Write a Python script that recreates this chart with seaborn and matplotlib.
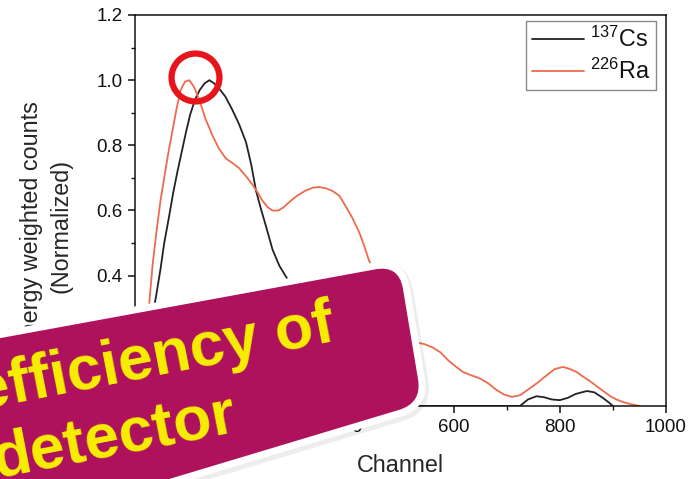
import numpy as np
import pandas as pd
import seaborn as sns
import matplotlib
matplotlib.use("Agg")
import matplotlib.pyplot as plt
from matplotlib.path import Path
from matplotlib.patches import PathPatch
from matplotlib.transforms import IdentityTransform, Affine2D
from matplotlib.ticker import FormatStrFormatter, MultipleLocator

# ---- spectra (normalised energy-weighted counts) ----
cs_channel = [18, 24, 30, 40, 48, 55, 64, 72, 80, 88, 96, 104, 113, 122, 131, 140,
              149, 158, 170, 183, 196, 209, 219, 228, 238, 247, 259, 272, 287, 300,
              320, 345, 370, 395, 420, 450, 480, 600, 725, 740, 756, 770, 785, 800,
              815, 830, 851, 865, 881, 893, 900]
cs_counts = [0.0, 0.12, 0.25, 0.34, 0.42, 0.50, 0.58, 0.655, 0.72, 0.78, 0.84, 0.895,
             0.94, 0.97, 0.99, 1.0, 0.99, 0.975, 0.95, 0.91, 0.865, 0.81, 0.74, 0.66,
             0.60, 0.55, 0.48, 0.43, 0.39, 0.36, 0.30, 0.21, 0.13, 0.07, 0.03, 0.01,
             0.0, 0.0, 0.0, 0.02, 0.03, 0.027, 0.02, 0.018, 0.025, 0.037, 0.046, 0.042,
             0.025, 0.01, 0.0]

ra_channel = [15, 20, 26, 33, 40, 48, 55, 62, 70, 78, 86, 94, 102, 111, 121, 133,
              146, 158, 171, 184, 196, 209, 221, 231, 240, 250, 259, 270, 280, 290,
              305, 320, 335, 347, 360, 372, 385, 398, 410, 423, 432, 440, 455, 470,
              485, 500, 515, 530, 545, 560, 575, 590, 605, 617, 632, 649, 665, 680,
              695, 710, 725, 740, 757, 772, 790, 806, 820, 833, 844, 858, 870, 881,
              895, 907, 919, 935, 951]
ra_counts = [0.0, 0.12, 0.30, 0.43, 0.53, 0.63, 0.70, 0.77, 0.84, 0.91, 0.97, 0.995,
             1.0, 0.98, 0.94, 0.88, 0.83, 0.79, 0.76, 0.745, 0.73, 0.705, 0.68, 0.655,
             0.63, 0.61, 0.60, 0.60, 0.61, 0.625, 0.645, 0.66, 0.67, 0.672, 0.668,
             0.66, 0.645, 0.61, 0.575, 0.53, 0.49, 0.45, 0.39, 0.33, 0.28, 0.24, 0.21,
             0.195, 0.19, 0.18, 0.165, 0.14, 0.12, 0.105, 0.095, 0.085, 0.07, 0.05,
             0.035, 0.028, 0.033, 0.05, 0.07, 0.09, 0.113, 0.12, 0.113, 0.103, 0.09,
             0.075, 0.06, 0.047, 0.03, 0.02, 0.012, 0.005, 0.0]

series_labels = ["$^{137}$Cs", "$^{226}$Ra"]
series_colors = ["#222222", "#EE6A4D"]
x_ticks = [0, 200, 400, 600, 800, 1000]
y_ticks = [0.0, 0.2, 0.4, 0.6, 0.8, 1.0, 1.2]
x_label = "Channel"
y_label = "Energy weighted counts\n(Normalized)"
banner_lines = ["efficiency of", "detector"]
highlight_point = (113, 1.01)   # ring drawn around the two main peaks

df = pd.concat([
    pd.DataFrame({"Channel": cs_channel, "Counts": cs_counts, "Source": series_labels[0]}),
    pd.DataFrame({"Channel": ra_channel, "Counts": ra_counts, "Source": series_labels[1]}),
], ignore_index=True)

sns.set_theme(style="ticks")
plt.rcParams.update({
    "font.family": ["Liberation Sans", "DejaVu Sans"],
    "mathtext.fontset": "custom",
    "mathtext.rm": "Liberation Sans",
    "mathtext.it": "Liberation Sans:italic",
    "mathtext.bf": "Liberation Sans:bold",
    "axes.edgecolor": "#111111",
    "axes.linewidth": 1.1,
    "xtick.color": "#111111",
    "ytick.color": "#111111",
    "text.color": "#111111",
})

W, H = 696, 479
fig = plt.figure(figsize=(W / 100, H / 100), dpi=100)
fig.patch.set_facecolor("white")
ax = fig.add_axes([135 / W, 1 - 406 / H, (666 - 135) / W, (406 - 15) / H])

sns.lineplot(data=df, x="Channel", y="Counts", hue="Source",
             palette=dict(zip(series_labels, series_colors)),
             estimator=None, sort=False, lw=1.3, ax=ax)

ax.set_xlim(0, 1000)
ax.set_ylim(0, 1.2)
ax.set_xticks(x_ticks)
ax.set_yticks(y_ticks)
ax.xaxis.set_minor_locator(MultipleLocator(100))
ax.yaxis.set_minor_locator(MultipleLocator(0.1))
ax.yaxis.set_major_formatter(FormatStrFormatter("%.1f"))
ax.tick_params(which="major", direction="out", length=5, width=1.1,
               labelsize=13.5, pad=4)
ax.tick_params(which="minor", direction="out", length=2.7, width=1.0)
for s in ax.spines.values():
    s.set_visible(True)
    s.set_linewidth(1.1)

ax.set_xlabel(x_label, fontsize=16.8)
ax.xaxis.label.set_va("baseline")
ax.xaxis.set_label_coords(0.5, (406 - 472) / 391)
ax.set_ylabel(y_label, fontsize=16.8, linespacing=1.35)
ax.yaxis.label.set_va("center")
ax.yaxis.set_label_coords((46 - 135) / 531, (406 - 226) / 391)

handles, labels = ax.get_legend_handles_labels()
ax.legend(handles, labels, loc="upper right",
          bbox_to_anchor=((656 - 135) / 531, (406 - 21) / 391),
          borderaxespad=0, frameon=True, fancybox=False, edgecolor="#8a8a8a",
          framealpha=1, fontsize=16.8, handlelength=2.25, handletextpad=0.25,
          borderpad=0.25, labelspacing=0.3)
ax.get_legend().get_frame().set_linewidth(1.0)

# red ring highlighting the peak region
ax.plot([highlight_point[0]], [highlight_point[1]], marker="o", ms=34.5,
        mfc="none", mec="#E8141B", mew=4.5, clip_on=False, zorder=5)


# ---- rounded banner laid over the lower left of the plot ----
def rounded_path(pts, r):
    pts = [np.asarray(p, float) for p in pts]
    n = len(pts)
    verts, codes = [], []
    for i in range(n):
        p, prev, nxt = pts[i], pts[i - 1], pts[(i + 1) % n]
        a = p + r * (prev - p) / np.linalg.norm(prev - p)
        b = p + r * (nxt - p) / np.linalg.norm(nxt - p)
        verts += [a, p, b]
        codes += [Path.MOVETO if i == 0 else Path.LINETO, Path.CURVE3, Path.CURVE3]
    verts.append(verts[0])
    codes.append(Path.CLOSEPOLY)
    return Path(verts, codes)


# corners in pixel space (y measured downwards), converted to display space
corners_px = [(-250, 384), (399, 265), (422, 403), (-250, 605)]
corners = [(x, H - y) for x, y in corners_px]
banner = rounded_path(corners, 24)

shadow = PathPatch(banner, facecolor="#000000", edgecolor="#000000", lw=12,
                   alpha=0.07, transform=Affine2D().translate(2, -3) + IdentityTransform(),
                   zorder=6)
border = PathPatch(banner, facecolor="white", edgecolor="white", lw=10,
                   transform=IdentityTransform(), zorder=7)
body = PathPatch(banner, facecolor="#AF125C", edgecolor="none",
                 transform=IdentityTransform(), zorder=8)
for p in (shadow, border, body):
    fig.add_artist(p)

banner_anchor_px = [(-21, 410), (-4, 478)]
for line, (x, y) in zip(banner_lines, banner_anchor_px):
    fig.text(x, H - y, line, transform=IdentityTransform(), rotation=11,
             rotation_mode="anchor", ha="left", va="baseline",
             fontsize=45, fontweight="bold", color="#F7EF00", zorder=9)

fig.savefig("out.png", dpi=100)
